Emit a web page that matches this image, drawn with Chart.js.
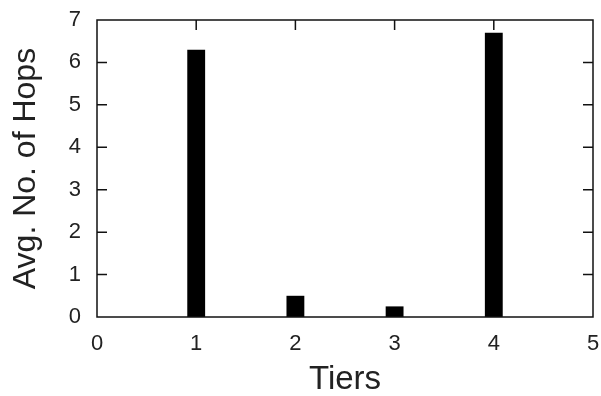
<!DOCTYPE html>
<html>
<head>
<meta charset="utf-8">
<script src="https://cdn.jsdelivr.net/npm/chart.js@4.4.0/dist/chart.umd.min.js"></script>
<style>
  html, body { margin: 0; padding: 0; background: #fff; }
  #wrap { width: 601px; height: 396px; }
</style>
</head>
<body>
<div id="wrap"><canvas id="hops"></canvas></div>
<script>
// tiers and average hop count per tier
var tiers = [1, 2, 3, 4];
var avgHops = [6.3, 0.5, 0.25, 6.7];

// axis ticks
var xTicks = [0, 1, 2, 3, 4, 5];
var yTicks = [0, 1, 2, 3, 4, 5, 6, 7];

var textColor = '#222';
var fontFamily = '"Liberation Sans", Arial, Helvetica, sans-serif';

// gnuplot style box: full border with inward ticks on all four sides
var frameTicks = {
  id: 'frameTicks',
  beforeDatasetsDraw: function(chart) {
    var ctx = chart.ctx, a = chart.chartArea;
    var xs = chart.scales.x, ys = chart.scales.y;
    var len = 10;
    ctx.save();
    ctx.strokeStyle = '#111';
    ctx.lineWidth = 1.5;
    ctx.beginPath();
    xTicks.forEach(function(v) {
      if (v === xTicks[0] || v === xTicks[xTicks.length - 1]) return;
      var px = xs.getPixelForValue(v);
      ctx.moveTo(px, a.top); ctx.lineTo(px, a.top + len);
      ctx.moveTo(px, a.bottom); ctx.lineTo(px, a.bottom - len);
    });
    yTicks.forEach(function(v) {
      if (v === yTicks[0] || v === yTicks[yTicks.length - 1]) return;
      var py = ys.getPixelForValue(v);
      ctx.moveTo(a.left, py); ctx.lineTo(a.left + len, py);
      ctx.moveTo(a.right, py); ctx.lineTo(a.right - len, py);
    });
    ctx.stroke();
    ctx.restore();
  },
  afterDatasetsDraw: function(chart) {
    var ctx = chart.ctx, a = chart.chartArea;
    ctx.save();
    ctx.strokeStyle = '#111';
    ctx.lineWidth = 1.5;
    ctx.strokeRect(a.left, a.top, a.right - a.left, a.bottom - a.top);
    ctx.restore();
  }
};

new Chart(document.getElementById('hops'), {
  type: 'bar',
  data: {
    datasets: [{
      data: tiers.map(function(t, i) { return { x: t, y: avgHops[i] }; }),
      backgroundColor: '#000',
      borderWidth: 0,
      barPercentage: 0.18,
      categoryPercentage: 1
    }]
  },
  options: {
    responsive: true,
    maintainAspectRatio: false,
    animation: false,
    layout: { padding: { top: 20, right: 8, left: 0, bottom: 0 } },
    plugins: { legend: { display: false }, tooltip: { enabled: false } },
    scales: {
      x: {
        type: 'linear',
        offset: false,
        min: xTicks[0],
        max: xTicks[xTicks.length - 1],
        afterBuildTicks: function(s) { s.ticks = xTicks.map(function(v) { return { value: v }; }); },
        afterFit: function(s) { s.height = 79; s.paddingLeft = 0; s.paddingRight = 0; },
        grid: { display: false, drawTicks: false, offset: false },
        border: { display: false },
        ticks: { color: textColor, padding: 14, font: { family: fontFamily, size: 22 } },
        title: {
          display: true,
          text: 'Tiers',
          color: textColor,
          padding: 0,
          font: { family: fontFamily, size: 33, lineHeight: 1 }
        }
      },
      y: {
        min: yTicks[0],
        max: yTicks[yTicks.length - 1],
        afterBuildTicks: function(s) { s.ticks = yTicks.map(function(v) { return { value: v }; }); },
        afterFit: function(s) { s.width = 97; s.paddingTop = 0; s.paddingBottom = 0; },
        grid: { display: false, drawTicks: false },
        border: { display: false },
        ticks: { color: textColor, padding: 16, font: { family: fontFamily, size: 22 } },
        title: {
          display: true,
          text: 'Avg. No. of Hops',
          color: textColor,
          padding: { top: 10, bottom: 0 },
          font: { family: fontFamily, size: 32, lineHeight: 1 }
        }
      }
    }
  },
  plugins: [frameTicks]
});
</script>
</body>
</html>
